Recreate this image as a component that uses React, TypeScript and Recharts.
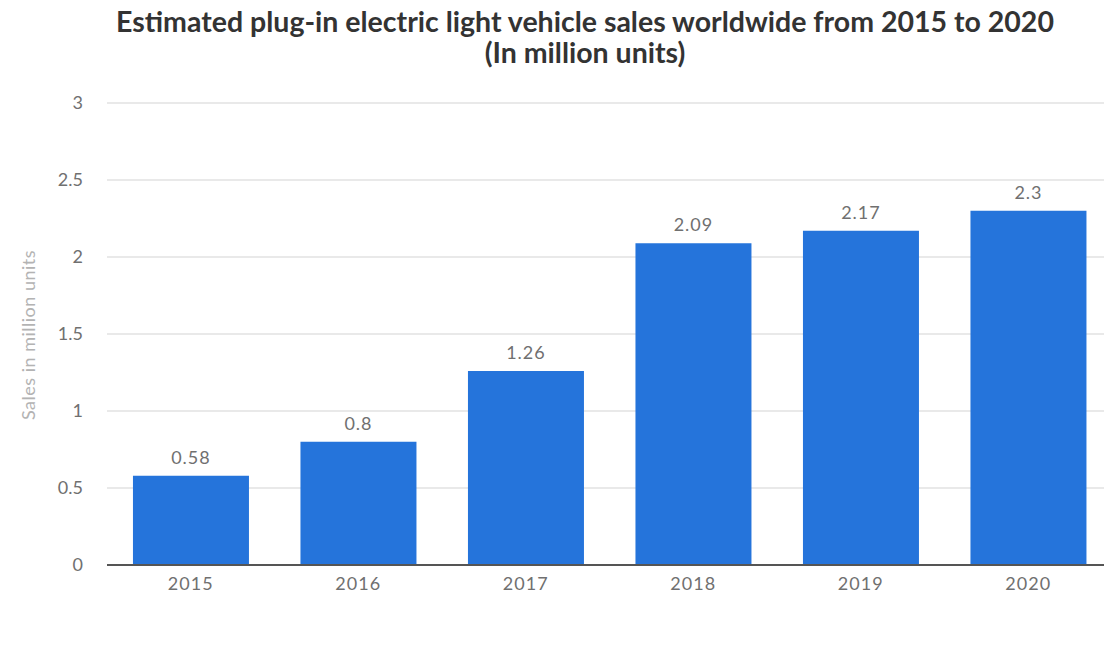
import { BarChart, Bar, XAxis, YAxis, CartesianGrid, LabelList } from "recharts";

const years = ["2015", "2016", "2017", "2018", "2019", "2020"];
const sales = [0.58, 0.8, 1.26, 2.09, 2.17, 2.3];
const yTicks = [0, 0.5, 1, 1.5, 2, 2.5, 3];
const titleLines = [
  "Estimated plug-in electric light vehicle sales worldwide from 2015 to 2020",
  "(In million units)",
];

const FONT = "Lato, 'Open Sans', sans-serif";

export default function App() {
  const data = years.map((year, i) => ({ year, sales: sales[i] }));

  return (
    <div
      style={{
        position: "absolute",
        left: 0,
        top: 0,
        width: 1104,
        height: 655,
        overflow: "hidden",
        background: "#fff",
        fontFamily: FONT,
      }}
    >
      {titleLines.map((line, i) => (
        <div
          key={i}
          style={{
            position: "absolute",
            left: 0,
            width: 1170,
            top: 6 + i * 31,
            height: 31,
            textAlign: "center",
            fontWeight: 700,
            fontSize: 28.5,
            lineHeight: "31px",
            color: "#333",
            whiteSpace: "nowrap",
          }}
        >
          {line}
        </div>
      ))}
      <div
        style={{
          position: "absolute",
          left: 28,
          top: 335,
          transform: "translate(-50%, -50%) rotate(-90deg)",
          whiteSpace: "nowrap",
          fontSize: 18,
          letterSpacing: 0.5,
          color: "#b3b3b3",
        }}
      >
        Sales in million units
      </div>
      <BarChart
        width={1120}
        height={655}
        data={data}
        margin={{ top: 103, right: 8, bottom: 60, left: 37 }}
        barCategoryGap="15.5%"
        style={{ position: "absolute", left: 0, top: 0 }}
      >
        <CartesianGrid vertical={false} stroke="#e2e2e2" strokeWidth={1.5} />
        <XAxis
          dataKey="year"
          axisLine={{ stroke: "#555", strokeWidth: 2 }}
          tickLine={false}
          tickSize={0}
          tickMargin={12}
          tick={{ fill: "#707070", fontSize: 18, fontFamily: FONT, letterSpacing: 1 }}
        />
        <YAxis
          width={70}
          domain={[0, 3]}
          ticks={yTicks}
          axisLine={false}
          tickLine={false}
          tickSize={0}
          tickMargin={24}
          tick={{ fill: "#707070", fontSize: 18, fontFamily: FONT }}
        />
        <Bar dataKey="sales" fill="#2574db" isAnimationActive={false}>
          <LabelList
            dataKey="sales"
            position="top"
            offset={12}
            fill="#707070"
            fontSize={18}
            fontFamily={FONT}
            letterSpacing={1}
          />
        </Bar>
      </BarChart>
    </div>
  );
}
